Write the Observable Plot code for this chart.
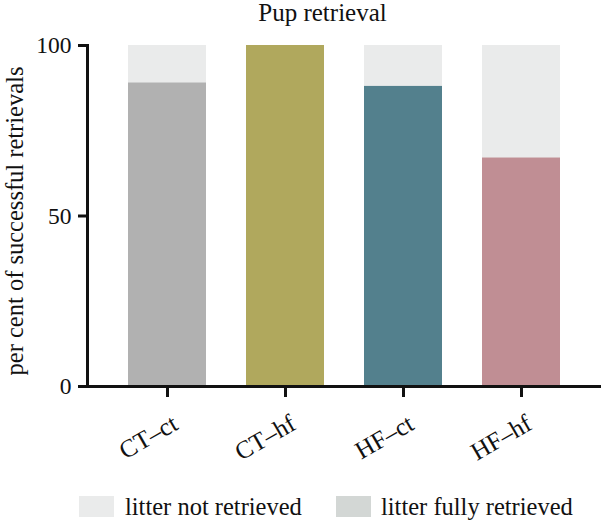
<!DOCTYPE html>
<html>
<head>
<meta charset="utf-8">
<script src="https://cdn.jsdelivr.net/npm/d3@7"></script>
<script src="https://cdn.jsdelivr.net/npm/@observablehq/plot@0.6"></script>
<style>
  body { margin: 0; background: #fff; }
  #wrap { position: relative; width: 602px; height: 522px; font-family: "Liberation Serif", "Times New Roman", serif; color: #111; }
  #title { position: absolute; top: -1px; left: 0; width: 602px; box-sizing: border-box; padding-left: 43px; text-align: center; font-size: 25px; line-height: 27px; }
  #chart { position: absolute; top: 30px; left: 0; }
  .sw { position: absolute; width: 35px; height: 21px; top: 496px; }
  .lt { position: absolute; top: 494px; font-size: 24.5px; line-height: 26px; white-space: nowrap; }
</style>
</head>
<body>
<div id="wrap">
  <div id="title"></div>
  <div id="chart"></div>
  <div id="legend"></div>
</div>
<script>
const chartTitle = "Pup retrieval";
const yLabel = "per cent of successful retrievals";
const groups = ["CT–ct", "CT–hf", "HF–ct", "HF–hf"];
const retrieved = [89, 100, 88, 67];
const totals = [100, 100, 100, 100];
const groupColors = ["#b1b1b1", "#b0a85d", "#53808d", "#c08e94"];
const yTicks = [0, 50, 100];
const legendLabels = ["litter not retrieved", "litter fully retrieved"];
const legendColors = ["#eaebeb", "#d3d7d5"];

const data = groups.map((g, i) => ({group: g, retrieved: retrieved[i], total: totals[i]}));

document.getElementById("title").textContent = chartTitle;

const plot = Plot.plot({
  width: 602,
  height: 430,
  marginTop: 15,
  marginBottom: 74,
  marginLeft: 87,
  marginRight: 1,
  style: {fontFamily: "Liberation Serif, Times New Roman, serif", background: "#fff", color: "#111", overflow: "visible"},
  x: {domain: groups, padding: 0.336, label: null},
  y: {domain: [0, 100], label: null},
  color: {domain: groups, range: groupColors},
  marks: [
    Plot.barY(data, {x: "group", y: "total", fill: legendColors[0]}),
    Plot.barY(data, {x: "group", y: "retrieved", fill: "group"}),
    Plot.ruleY([0], {strokeWidth: 3, stroke: "#111"}),
    Plot.frame({anchor: "left", strokeWidth: 3, stroke: "#111"}),
    Plot.axisY({ticks: yTicks, tickSize: 9, tickPadding: 7, strokeWidth: 3, fontSize: 23.5, label: null, stroke: "#111"}),
    Plot.axisX({tickSize: 11, strokeWidth: 3, tickFormat: () => "", label: null, stroke: "#111"}),
    Plot.text(groups, {x: d => d, frameAnchor: "bottom", dx: 8, dy: 35, rotate: -30, textAnchor: "end", lineAnchor: "middle", fontSize: 25}),
    Plot.text([yLabel], {frameAnchor: "left", dx: -65, dy: 5, rotate: -90, textAnchor: "middle", lineAnchor: "bottom", fontSize: 24.5})
  ]
});
document.getElementById("chart").appendChild(plot);

const legend = document.getElementById("legend");
const swLeft = [79, 336];
const txLeft = [125, 381];
legendLabels.forEach((lab, i) => {
  const s = document.createElement("div");
  s.className = "sw";
  s.style.left = swLeft[i] + "px";
  s.style.background = legendColors[i];
  legend.appendChild(s);
  const t = document.createElement("div");
  t.className = "lt";
  t.style.left = txLeft[i] + "px";
  t.textContent = lab;
  legend.appendChild(t);
});
</script>
</body>
</html>
